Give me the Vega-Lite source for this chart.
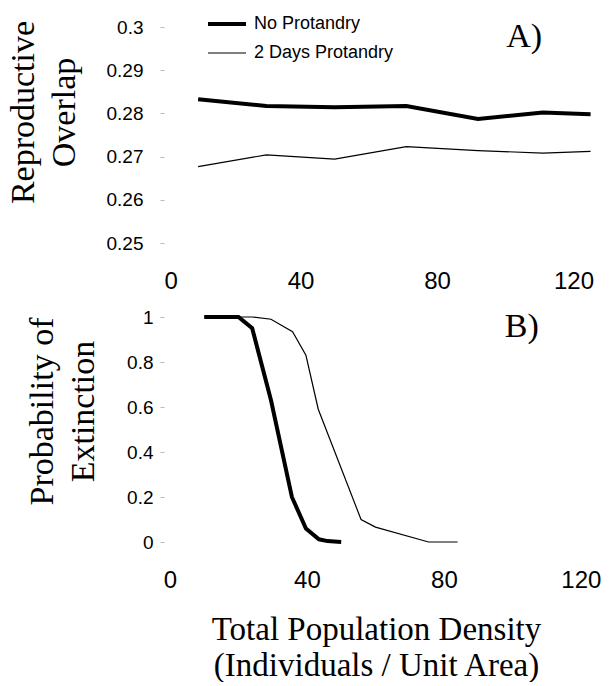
{
  "$schema": "https://vega.github.io/schema/vega-lite/v6.json",
  "background": "white",
  "padding": {"left": 5, "top": 3, "right": 5, "bottom": 0},
  "bounds": "flush",
  "spacing": 74,
  "config": {
    "view": {"stroke": null},
    "font": "Liberation Sans",
    "axis": {
      "domain": false,
      "grid": false,
      "labelFont": "Liberation Sans",
      "labelColor": "black",
      "titleFont": "Liberation Serif",
      "titleFontWeight": "normal",
      "titleColor": "black"
    }
  },
  "datasets": {
    "overlap": [
      {"density": 10, "overlap": 0.2833, "series": "No Protandry"},
      {"density": 30, "overlap": 0.2817, "series": "No Protandry"},
      {"density": 50, "overlap": 0.2814, "series": "No Protandry"},
      {"density": 71, "overlap": 0.2817, "series": "No Protandry"},
      {"density": 92, "overlap": 0.2787, "series": "No Protandry"},
      {"density": 111, "overlap": 0.2802, "series": "No Protandry"},
      {"density": 125, "overlap": 0.2798, "series": "No Protandry"},
      {"density": 10, "overlap": 0.2677, "series": "2 Days Protandry"},
      {"density": 30, "overlap": 0.2704, "series": "2 Days Protandry"},
      {"density": 50, "overlap": 0.2694, "series": "2 Days Protandry"},
      {"density": 71, "overlap": 0.2723, "series": "2 Days Protandry"},
      {"density": 92, "overlap": 0.2714, "series": "2 Days Protandry"},
      {"density": 111, "overlap": 0.2708, "series": "2 Days Protandry"},
      {"density": 125, "overlap": 0.2712, "series": "2 Days Protandry"}
    ],
    "extinction": [
      {"density": 10, "prob": 1, "series": "No Protandry"},
      {"density": 20, "prob": 1, "series": "No Protandry"},
      {"density": 24, "prob": 0.95, "series": "No Protandry"},
      {"density": 29.5, "prob": 0.63, "series": "No Protandry"},
      {"density": 35.6, "prob": 0.2, "series": "No Protandry"},
      {"density": 39.7, "prob": 0.06, "series": "No Protandry"},
      {"density": 43.5, "prob": 0.012, "series": "No Protandry"},
      {"density": 46, "prob": 0.004, "series": "No Protandry"},
      {"density": 50, "prob": 0, "series": "No Protandry"},
      {"density": 10, "prob": 1, "series": "2 Days Protandry"},
      {"density": 24, "prob": 1, "series": "2 Days Protandry"},
      {"density": 29.5, "prob": 0.99, "series": "2 Days Protandry"},
      {"density": 35.8, "prob": 0.935, "series": "2 Days Protandry"},
      {"density": 39.7, "prob": 0.83, "series": "2 Days Protandry"},
      {"density": 43.3, "prob": 0.59, "series": "2 Days Protandry"},
      {"density": 55.8, "prob": 0.1, "series": "2 Days Protandry"},
      {"density": 60, "prob": 0.066, "series": "2 Days Protandry"},
      {"density": 75.5, "prob": 0, "series": "2 Days Protandry"},
      {"density": 84, "prob": 0, "series": "2 Days Protandry"}
    ],
    "panelA": [{"label": "A)"}],
    "panelB": [{"label": "B)"}]
  },
  "vconcat": [
    {
      "width": 430,
      "height": 216,
      "encoding": {
        "x": {"type": "quantitative", "scale": {"domain": [0, 126], "nice": false, "zero": false},
          "axis": {"values": [0, 40, 80, 120], "ticks": false, "labelFontSize": 24, "labelPadding": 26, "title": null}},
        "y": {"type": "quantitative", "scale": {"domain": [0.25, 0.3], "nice": false, "zero": false},
          "axis": {"values": [0.25, 0.26, 0.27, 0.28, 0.29, 0.3], "format": "~g", "labelFontSize": 19, "tickSize": 4, "tickColor": "#bbbbbb", "labelPadding": 17,
            "title": ["Reproductive", "Overlap"], "titleFontSize": 34, "titleLineHeight": 41, "titleAngle": 270, "titleAlign": "center", "titleBaseline": "alphabetic", "titleX": -131, "titleY": 85}}
      },
      "layer": [
        {
          "data": {"name": "overlap"},
          "mark": {"type": "line", "color": "black"},
          "encoding": {
            "x": {"field": "density", "type": "quantitative"},
            "y": {"field": "overlap", "type": "quantitative"},
            "strokeWidth": {"field": "series", "type": "ordinal",
              "scale": {"domain": ["No Protandry", "2 Days Protandry"], "range": [4, 1.2]},
              "legend": {"title": null, "orient": "none", "legendX": 42, "legendY": -24, "symbolType": "stroke", "symbolSize": 1444, "symbolStrokeColor": "black", "labelFont": "Liberation Sans", "labelFontSize": 18, "labelColor": "black", "labelOffset": 6, "rowPadding": -8, "padding": 0}}
          }
        },
        {
          "data": {"name": "panelA"},
          "mark": {"type": "text", "font": "Liberation Serif", "fontSize": 34, "color": "black", "align": "right", "baseline": "alphabetic"},
          "encoding": {
            "x": {"datum": 110.8, "type": "quantitative"},
            "y": {"datum": 0.2954, "type": "quantitative"},
            "text": {"field": "label"}
          }
        }
      ]
    },
    {
      "width": 434,
      "height": 225,
      "encoding": {
        "x": {"type": "quantitative", "scale": {"domain": [-1.75, 125], "nice": false, "zero": false},
          "axis": {"values": [0, 40, 80, 120], "ticks": false, "labelFontSize": 24, "labelPadding": 26,
            "title": ["Total Population Density", "(Individuals / Unit Area)"], "titleFontSize": 33, "titleLineHeight": 36, "titleBaseline": "alphabetic", "titleAlign": "center", "titleX": 212, "titleY": 97}},
        "y": {"type": "quantitative", "scale": {"domain": [0, 1], "nice": false},
          "axis": {"values": [0, 0.2, 0.4, 0.6, 0.8, 1], "format": "~g", "labelFontSize": 19, "tickSize": 4, "tickColor": "#bbbbbb", "labelPadding": 7,
            "title": ["Probability of", "Extinction"], "titleFontSize": 34, "titleLineHeight": 41, "titleAngle": 270, "titleAlign": "center", "titleBaseline": "alphabetic", "titleX": -112, "titleY": 94}}
      },
      "layer": [
        {
          "data": {"name": "extinction"},
          "mark": {"type": "line", "color": "black"},
          "encoding": {
            "x": {"field": "density", "type": "quantitative"},
            "y": {"field": "prob", "type": "quantitative"},
            "strokeWidth": {"field": "series", "type": "ordinal",
              "scale": {"domain": ["No Protandry", "2 Days Protandry"], "range": [4, 1.2]},
              "legend": null}
          }
        },
        {
          "data": {"name": "panelB"},
          "mark": {"type": "text", "font": "Liberation Serif", "fontSize": 34, "color": "black", "align": "right", "baseline": "alphabetic"},
          "encoding": {
            "x": {"datum": 107.7, "type": "quantitative"},
            "y": {"datum": 0.911, "type": "quantitative"},
            "text": {"field": "label"}
          }
        }
      ]
    }
  ]
}
